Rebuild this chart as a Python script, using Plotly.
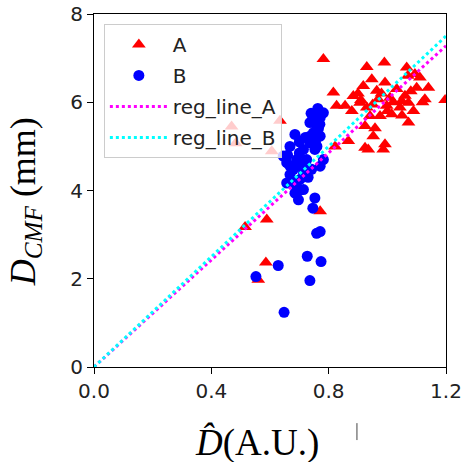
import plotly.graph_objects as go

# Series A (red triangles)
a_x = [0.782, 0.93, 0.99, 1.066, 1.07, 1.094, 0.947, 0.918, 0.992, 0.816,
       0.884, 0.964, 1.032, 1.10, 1.14, 1.111, 0.827, 0.856, 0.879, 0.907,
       0.93, 0.969, 0.998, 1.015, 1.043, 1.072, 1.089, 0.941, 0.975, 1.072,
       0.924, 1.049, 1.009, 0.952, 0.822, 0.867, 0.924, 0.935, 0.986, 0.992,
       1.128, 1.197, 0.958, 0.771, 0.589, 0.515, 0.586, 0.56, 0.469, 0.483,
       0.634, 0.606, 0.90, 1.02, 1.06, 0.95, 1.0, 1.05, 0.91, 0.98, 1.12, 1.08]
a_y = [6.98, 6.8, 6.9, 6.79, 6.6, 6.64, 6.52, 6.37, 6.45, 6.22,
       6.14, 6.26, 6.3, 6.33, 6.33, 6.56, 5.92, 5.92, 5.8, 5.99,
       5.88, 6.07, 5.92, 5.73, 5.88, 5.99, 5.8, 5.69, 5.69, 5.54,
       5.46, 6.03, 6.1, 5.23, 5.0, 5.12, 4.97, 4.93, 4.93, 5.05,
       6.07, 6.05, 5.41, 3.53, 3.34, 3.17, 2.37, 1.98, 5.45, 5.07,
       5.58, 4.89, 6.2, 6.0, 6.15, 5.95, 5.8, 5.7, 6.05, 6.2, 6.0, 6.25]

# Series B (blue circles)
b_x = [0.763, 0.782, 0.771, 0.736, 0.759, 0.748, 0.736, 0.771, 0.685, 0.736,
       0.714, 0.753, 0.668, 0.645, 0.657, 0.691, 0.725, 0.782, 0.771, 0.742,
       0.714, 0.668, 0.68, 0.668, 0.702, 0.657, 0.691, 0.714, 0.685, 0.697,
       0.753, 0.746, 0.759, 0.771, 0.727, 0.774, 0.736, 0.628, 0.552, 0.648,
       0.75, 0.765, 0.755, 0.70, 0.72, 0.68, 0.70, 0.76,
       0.70, 0.72, 0.66, 0.69, 0.73, 0.76, 0.74, 0.77]
b_y = [5.86, 5.76, 5.65, 5.54, 5.46, 5.31, 5.23, 5.23, 5.27, 5.08,
       4.93, 4.93, 5.0, 4.78, 4.63, 4.7, 4.7, 4.7, 4.55, 4.48,
       4.4, 4.36, 4.48, 4.55, 4.25, 4.17, 4.09, 4.02, 3.94, 3.79,
       3.83, 3.6, 3.03, 3.07, 2.51, 2.39, 1.96, 2.3, 2.05, 1.24,
       5.6, 5.4, 5.1, 4.85, 4.6, 4.2, 4.0, 5.7,
       5.1, 5.2, 4.8, 4.55, 4.3, 5.0, 5.75, 5.5]

# Regression lines (endpoints)
reg_x = [0.0, 1.2]
reg_a_y = [0.0, 7.28]
reg_b_y = [0.0, 7.5]

x_ticks = [0.0, 0.4, 0.8, 1.2]
y_ticks = [0, 2, 4, 6, 8]

fig = go.Figure()
fig.add_trace(go.Scatter(x=a_x, y=a_y, mode="markers", name="A", legendgroup="a",
                         marker=dict(symbol="triangle-up", size=12, color="#ff0000", line=dict(width=0))))
fig.add_trace(go.Scatter(x=b_x, y=b_y, mode="markers", name="B", legendgroup="b",
                         marker=dict(symbol="circle", size=11, color="#0000ff", line=dict(width=0))))
fig.add_trace(go.Scatter(x=reg_x, y=reg_a_y, mode="lines", name="reg_line_A", legendgroup="c",
                         line=dict(color="#ff00ff", width=3, dash="dot")))
fig.add_trace(go.Scatter(x=reg_x, y=reg_b_y, mode="lines", name="reg_line_B", legendgroup="d",
                         line=dict(color="#00ffff", width=3, dash="dot")))

axis_common = dict(showgrid=False, zeroline=False, showline=True, linecolor="black", linewidth=1,
                   mirror=True, ticks="outside", ticklen=6, tickcolor="black", automargin=False,
                   tickfont=dict(family="DejaVu Sans", size=20, color="#222"))

fig.update_xaxes(range=[0, 1.2], tickvals=x_ticks, tickformat=".1f", **axis_common)
fig.update_yaxes(range=[0, 8], tickvals=y_ticks, **axis_common)

fig.update_layout(
    width=469, height=462,
    margin=dict(l=94, r=23, t=14, b=95),
    plot_bgcolor="white", paper_bgcolor="white",
    showlegend=True,
    legend=dict(x=0.028, y=0.972, xanchor="left", yanchor="top",
                bgcolor="rgba(255,255,255,0.8)", bordercolor="#cccccc", borderwidth=1,
                font=dict(family="DejaVu Sans", size=20, color="#222"),
                tracegroupgap=2, itemwidth=58),
    annotations=[
        dict(text="<i>D̂</i>(A.U.)", xref="paper", yref="paper", x=0.463, y=-0.15,
             xanchor="center", yanchor="top", showarrow=False,
             font=dict(family="Liberation Serif", size=37, color="black")),
        dict(text="<i>D</i><sub><i>CMF</i></sub> (mm)", xref="paper", yref="paper", x=-0.125, y=0.468,
             xanchor="right", yanchor="middle", textangle=-90, showarrow=False,
             font=dict(family="Liberation Serif", size=36, color="black")),
    ],
    shapes=[dict(type="line", xref="paper", yref="paper", x0=0.747, x1=0.747, y0=-0.159, y1=-0.207,
                 line=dict(color="#444", width=1))],
)

fig.write_html("out.html", config={"displayModeBar": False},
               post_script="document.body.style.margin='0';document.body.style.overflow='hidden';")
